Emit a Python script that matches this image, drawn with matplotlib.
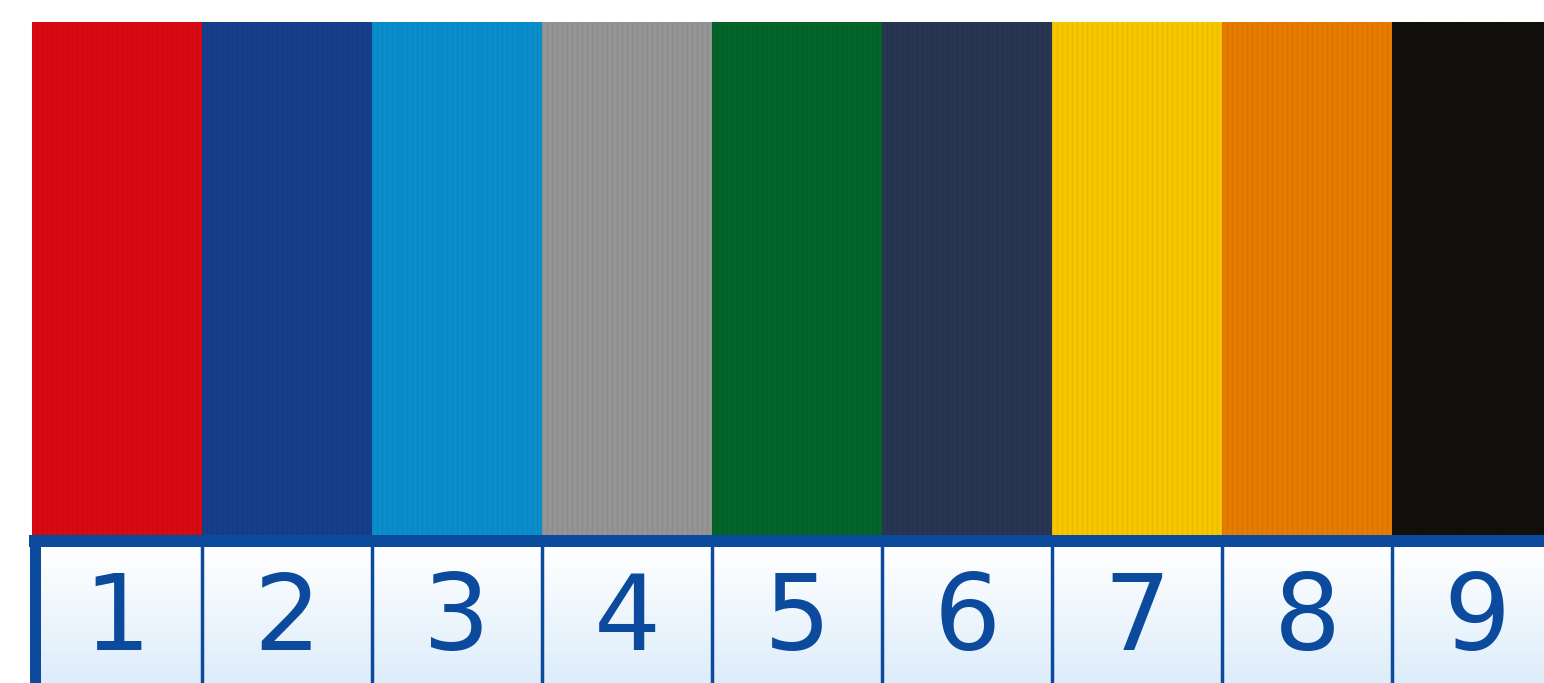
import numpy as np
import matplotlib.pyplot as plt
from matplotlib.colors import LinearSegmentedColormap

# swatch numbers and colours
labels = ['1', '2', '3', '4', '5', '6', '7', '8', '9']
colors = ['#d90913', '#173e8b', '#0a8ecb', '#959595', '#04652a',
          '#283652', '#f7c700', '#e87c00', '#12100d']
swatch_height = [513] * 9

border = '#0b4a9c'

fig = plt.figure(figsize=(15.44, 6.83), dpi=100)
ax = fig.add_axes([0, 0, 1, 1])
# x in columns (170 px each), y in pixels from bottom
ax.set_xlim(-32 / 170, (1544 - 32) / 170)
ax.set_ylim(0, 683)
ax.axis('off')

x = np.arange(len(labels)) + 0.5
ax.bar(x, swatch_height, width=1.0, bottom=148, color=colors, linewidth=0, zorder=2)

# faint vertical ribbing on the swatches
rib = np.arange(0, len(labels), 5 / 170)
ax.vlines(rib, 148, 661, colors='black', alpha=0.06, linewidth=1.0, zorder=3)

# label row: light gradient background, white at top
grad = LinearSegmentedColormap.from_list('g', ['#ffffff', '#ddedfa'])
ax.imshow(np.linspace(0, 1, 100).reshape(-1, 1), cmap=grad, aspect='auto',
          extent=(0, len(labels), 0, 136), zorder=1)

# frame of the label row
ax.fill_between([-3 / 170, len(labels)], 136, 148, color=border, zorder=4, linewidth=0)
ax.fill_between([-2 / 170, 9 / 170], 0, 148, color=border, zorder=4, linewidth=0)
for i in range(1, len(labels)):
    ax.vlines(i, 0, 140, colors=border, linewidth=2.5, zorder=4)

for xi, lab in zip(x, labels):
    ax.text(xi, 62, lab, ha='center', va='center', fontsize=76,
            color=border, family='DejaVu Sans', zorder=5)

fig.savefig('out.png', dpi=100, facecolor='white')
